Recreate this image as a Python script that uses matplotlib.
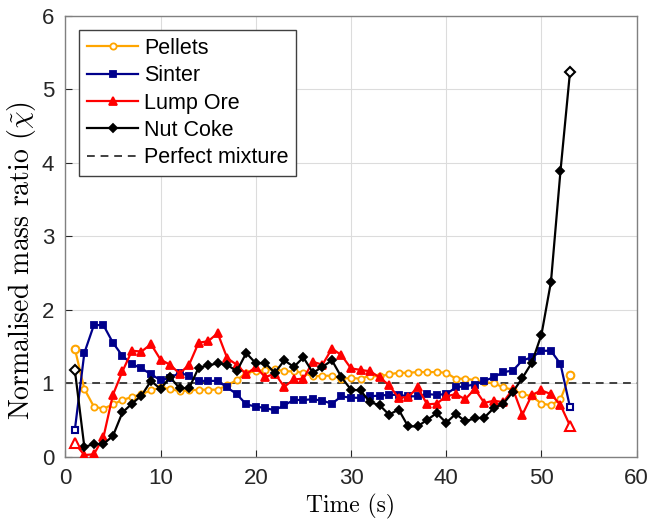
import matplotlib.pyplot as plt
import numpy as np

# Waktu (s) dan rasio massa ternormalisasi tiap material
time = np.arange(1, 54)

pellets = [1.47, 0.92, 0.68, 0.65, 0.71, 0.77, 0.81, 0.85, 0.90, 0.94,
           0.92, 0.89, 0.90, 0.91, 0.91, 0.91, 0.97, 1.04, 1.14, 1.16,
           1.18, 1.19, 1.16, 1.16, 1.14, 1.09, 1.10, 1.10, 1.06, 1.07,
           1.06, 1.10, 1.09, 1.12, 1.14, 1.14, 1.15, 1.15, 1.15, 1.14,
           1.06, 1.06, 1.04, 1.01, 1.00, 0.94, 0.91, 0.85, 0.82, 0.72,
           0.70, 0.78, 1.11]
sinter = [0.36, 1.41, 1.79, 1.79, 1.55, 1.37, 1.26, 1.20, 1.12, 1.04,
          1.07, 1.14, 1.10, 1.03, 1.03, 1.03, 0.94, 0.85, 0.71, 0.68,
          0.66, 0.63, 0.70, 0.77, 0.77, 0.78, 0.76, 0.72, 0.82, 0.80,
          0.80, 0.82, 0.83, 0.84, 0.84, 0.82, 0.82, 0.85, 0.84, 0.85,
          0.94, 0.96, 0.98, 1.03, 1.08, 1.15, 1.17, 1.31, 1.35, 1.44,
          1.44, 1.26, 0.67]
lump_ore = [0.18, 0.02, 0.03, 0.26, 0.84, 1.16, 1.44, 1.43, 1.53, 1.32,
            1.25, 1.13, 1.25, 1.55, 1.57, 1.68, 1.34, 1.25, 1.12, 1.22,
            1.08, 1.13, 0.95, 1.05, 1.06, 1.29, 1.25, 1.47, 1.38, 1.20,
            1.18, 1.16, 1.08, 0.97, 0.80, 0.81, 0.94, 0.71, 0.72, 0.82,
            0.85, 0.78, 0.92, 0.73, 0.76, 0.74, 0.92, 0.57, 0.84, 0.90,
            0.85, 0.70, 0.42]
nut_coke = [1.18, 0.13, 0.17, 0.17, 0.28, 0.60, 0.72, 0.83, 1.03, 0.92,
            1.08, 0.93, 0.93, 1.21, 1.24, 1.27, 1.25, 1.16, 1.41, 1.27,
            1.27, 1.14, 1.31, 1.22, 1.35, 1.14, 1.22, 1.31, 1.08, 0.91,
            0.90, 0.74, 0.70, 0.57, 0.64, 0.41, 0.41, 0.50, 0.59, 0.46,
            0.58, 0.48, 0.52, 0.53, 0.66, 0.72, 0.88, 1.07, 1.28, 1.66,
            2.38, 3.89, 5.24]

series = [
    ('Pellets', pellets, '#FFA500', 'o', 4.5, 'none'),
    ('Sinter', sinter, '#00008B', 's', 4, None),
    ('Lump Ore', lump_ore, '#FF0000', '^', 6, None),
    ('Nut Coke', nut_coke, '#000000', 'D', 4, None),
]

plt.rcParams['font.family'] = ['Liberation Sans', 'DejaVu Sans']
plt.rcParams['mathtext.fontset'] = 'cm'

fig = plt.figure(figsize=(6.51, 5.24), dpi=100)
ax = fig.add_axes([0.1003, 0.1288, 0.8777, 0.8407])

for nama, y, warna, mk, ms, mfc in series:
    y = np.array(y)
    ax.plot(time, y, color=warna, lw=1.6, marker=mk, ms=ms,
            mfc=warna if mfc is None else 'white', mew=1.3, label=nama, zorder=3)
    # titik awal dan akhir digambar kosong
    ax.plot(time[[0, -1]], y[[0, -1]], ls='none', marker=mk, ms=ms + 1,
            mfc='white', mec=warna, mew=1.5, zorder=4)

ax.axhline(1, color='#404040', ls='--', lw=1.4, dashes=(4, 3), label='Perfect mixture', zorder=2)

ax.set_xlim(0, 60)
ax.set_ylim(0, 6)
ax.set_xticks(range(0, 61, 10))
ax.set_yticks(range(0, 7))
ax.grid(True, color='#dcdcdc', lw=0.8)
ax.set_axisbelow(True)
ax.tick_params(direction='in', labelsize=16, colors='#262626', length=5, pad=8)
for s in ax.spines.values():
    s.set_color('#808080')
    s.set_linewidth(1.0)

ax.set_xlabel('Time (s)', fontsize=17, family='cmr10', labelpad=4)
ax.set_ylabel(r'Normalised mass ratio ($\tilde{\chi}$)', fontsize=20, family='cmr10')
ax.yaxis.set_label_coords(-0.047, 0.445)

leg = ax.legend(loc='upper left', bbox_to_anchor=(0.0245, 0.968), borderaxespad=0,
                fontsize=15.5, handlelength=2.4, labelspacing=0.3, fancybox=False,
                edgecolor='#404040', framealpha=1, borderpad=0.35, handletextpad=0.25)
leg.get_frame().set_linewidth(1.0)

plt.savefig('out.png', dpi=100)
